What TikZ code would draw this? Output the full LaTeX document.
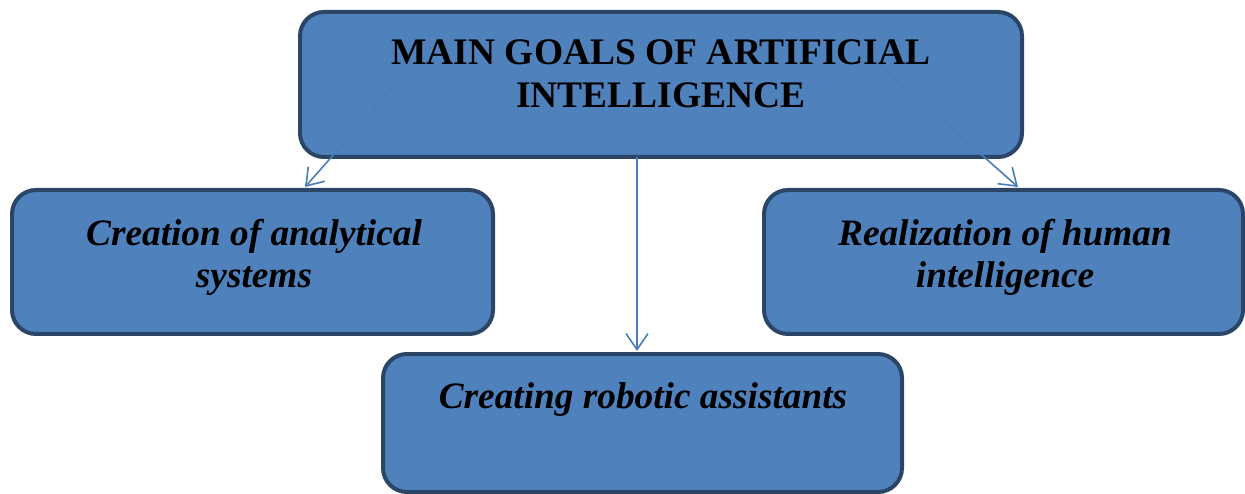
\documentclass[tikz,border=0pt]{standalone}
\usepackage{fontspec}
\setmainfont{Liberation Serif}
\usetikzlibrary{arrows.meta}
\definecolor{boxfill}{HTML}{4F81BD}
\definecolor{boxline}{HTML}{2A4566}
\definecolor{arrowc}{HTML}{4A7EBB}
\tikzset{
  goalbox/.style={draw=boxline, fill=boxfill, line width=4pt, rounded corners=24pt, inner sep=0pt},
  goaltext/.style={align=center, inner sep=0pt, anchor=base, text=black},
  link/.style={draw=arrowc, line width=1.6pt, -{Straight Barb[length=16pt, width=22pt, line width=1.6pt]}}
}
\begin{document}
\begin{tikzpicture}[x=1pt,y=-1pt]
\useasboundingbox (0,0) rectangle (1245,494);
\node[goalbox, minimum width=722pt, minimum height=145pt] (top) at (661,84.5) {};
\node[goalbox, minimum width=481pt, minimum height=144pt] (left) at (252.5,262) {};
\node[goalbox, minimum width=479pt, minimum height=144pt] (right) at (1003.5,262) {};
\node[goalbox, minimum width=519pt, minimum height=138pt] (bottom) at (642.5,423) {};
\node[goaltext, font=\fontsize{37.5}{43}\selectfont\bfseries] (toptext) at (661,108) {MAIN GOALS OF ARTIFICIAL\\INTELLIGENCE};
\node[goaltext, font=\fontsize{37.3}{43}\selectfont\bfseries\itshape] (lefttext) at (254,288) {Creation of analytical\\systems};
\node[goaltext, font=\fontsize{37.3}{43}\selectfont\bfseries\itshape] (righttext) at (1005,288) {Realization of human\\intelligence};
\node[goaltext, font=\fontsize{37.3}{43}\selectfont\bfseries\itshape] (bottomtext) at (643,408) {Creating robotic assistants};
\coordinate (s1) at (397,83);
\coordinate (e1) at (305,187);
\coordinate (s2) at (637,157);
\coordinate (e2) at (637,351);
\coordinate (s3) at (880,65);
\coordinate (e3) at (1018,187);
\draw[link] (s1) -- (e1);
\draw[link] (s2) -- (e2);
\draw[link] (s3) -- (e3);
\end{tikzpicture}
\end{document}
